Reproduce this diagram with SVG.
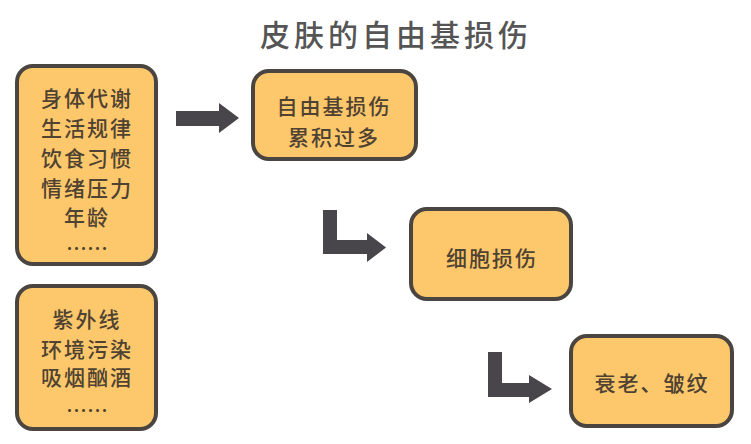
<svg xmlns="http://www.w3.org/2000/svg" width="751" height="444" viewBox="0 0 751 444">
<style>
.box{fill:#fcc86b;stroke:#4a4541;stroke-width:4}
.t{font-family:"Noto Sans CJK SC","Noto Sans",sans-serif;font-size:21px;font-weight:500;fill:#4f4232;text-anchor:middle;dominant-baseline:central;letter-spacing:2px}
.title{font-family:"Noto Sans CJK SC","Noto Sans",sans-serif;font-size:30px;font-weight:500;fill:#555555;text-anchor:middle;dominant-baseline:central;letter-spacing:4px}
.arr{fill:#48464a}
</style>
<rect width="751" height="444" fill="#ffffff"/>
<text class="title" x="396" y="33">皮肤的自由基损伤</text>
<g id="node-factors">
<rect class="box" x="17" y="66" width="139" height="198" rx="16"/>
<text class="t" x="87" y="97">身体代谢</text>
<text class="t" x="87" y="127">生活规律</text>
<text class="t" x="87" y="157">饮食习惯</text>
<text class="t" x="87" y="187">情绪压力</text>
<text class="t" x="87" y="216">年龄</text>
<text class="t" x="87" y="247" style="letter-spacing:0">……</text>
</g>
<g id="node-external">
<rect class="box" x="17" y="286" width="139" height="143" rx="16"/>
<text class="t" x="87" y="318">紫外线</text>
<text class="t" x="87" y="348">环境污染</text>
<text class="t" x="87" y="376">吸烟酗酒</text>
<text class="t" x="87" y="409" style="letter-spacing:0">……</text>
</g>
<g id="node-radicals">
<rect class="box" x="253" y="71" width="163" height="88" rx="16"/>
<text class="t" x="334" y="105">自由基损伤</text>
<text class="t" x="334" y="136">累积过多</text>
</g>
<g id="node-cell">
<rect class="box" x="411" y="209" width="160" height="90" rx="16"/>
<text class="t" x="492" y="257">细胞损伤</text>
</g>
<g id="node-aging">
<rect class="box" x="571" y="336" width="161" height="90" rx="16"/>
<text class="t" x="652" y="382">衰老、皱纹</text>
</g>
<g id="connectors">
<path class="arr" d="M176 111 H219 V103 L239 118 L219 133 V126 H176 Z"/>
<path class="arr" d="M323 210 H337 V240 H367 V233 L386 247.5 L367 262 V254 H323 Z"/>
<path class="arr" d="M488 352 H502 V383 H529 V375 L552 389 L529 403 V397 H488 Z"/>
</g>
</svg>
